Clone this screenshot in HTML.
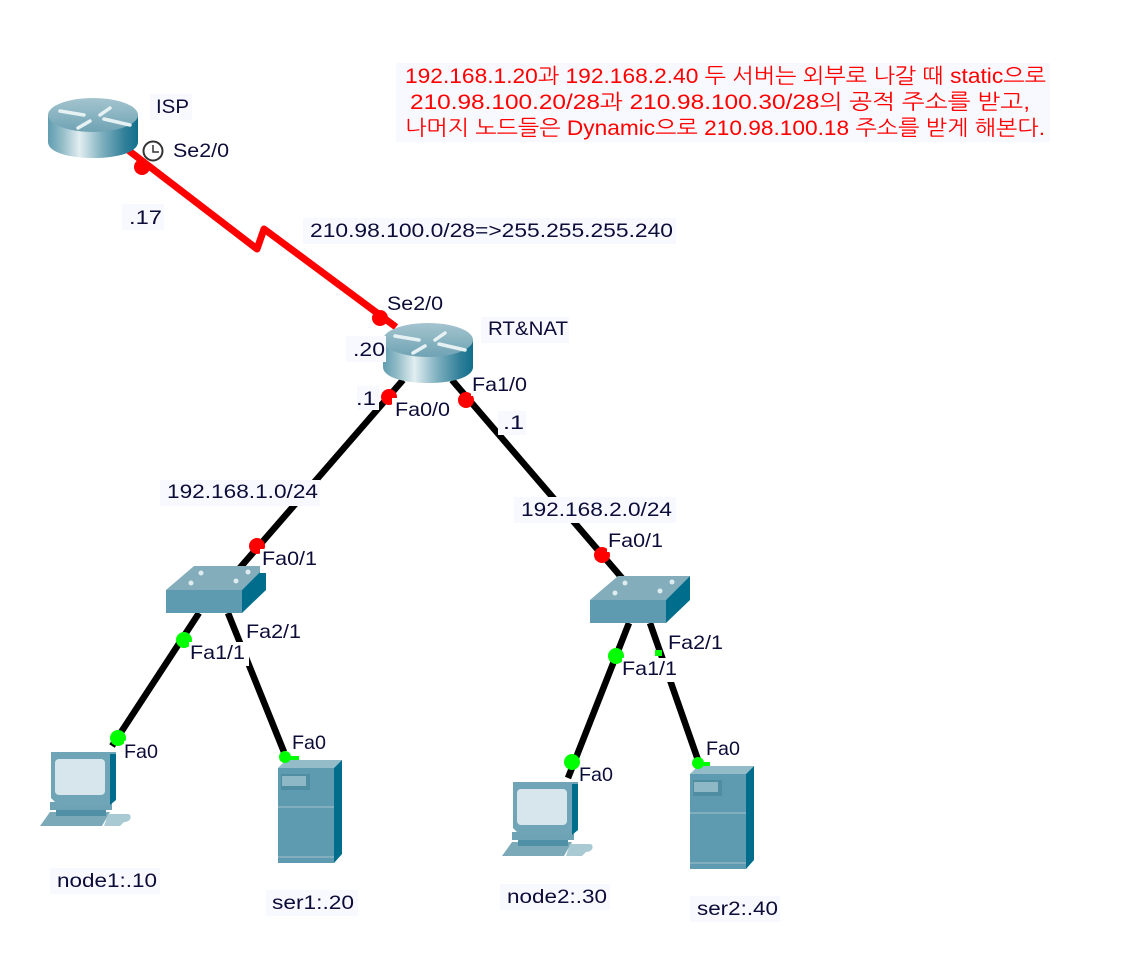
<!DOCTYPE html>
<html><head><meta charset="utf-8"><style>
html,body{margin:0;padding:0;background:#fff}
svg{display:block}
text{font-family:"Liberation Sans","NanumGothic","Noto Sans CJK KR",sans-serif;font-size:19.5px;fill:#0c0c38}
.r{fill:#ff0000;font-size:21px;font-family:"Liberation Sans","NanumGothic","Noto Sans CJK KR",sans-serif}
.b{fill:#f8f9ff}
</style></head><body>
<svg width="1125" height="963" viewBox="0 0 1125 963" xmlns="http://www.w3.org/2000/svg">
<defs>
<linearGradient id="rg" x1="0" x2="1" y1="0" y2="0">
<stop offset="0" stop-color="#5f9db0"/><stop offset=".15" stop-color="#8fbac6"/><stop offset=".35" stop-color="#e2eef1"/><stop offset=".6" stop-color="#7fb0bf"/><stop offset=".85" stop-color="#33809a"/><stop offset="1" stop-color="#0f6f8c"/>
</linearGradient>
<linearGradient id="rt" x1="0" x2="0" y1="0" y2="1"><stop offset="0" stop-color="#a4c4cf"/><stop offset="1" stop-color="#6fa3b4"/></linearGradient>
<g id="router">
<path d="M0 17 V44 C0 54 20 60 45 60 C70 60 90 54 90 44 V17 Z" fill="url(#rg)"/>
<ellipse cx="45" cy="17" rx="45" ry="17" fill="url(#rt)"/>
<g stroke="#e6f1f4" stroke-width="3.5" fill="none" stroke-linecap="round">
<path d="M12 13 L36 17"/><path d="M52 17 L62 10"/><path d="M56 21 L82 27"/><path d="M30 30 L42 23"/>
</g>
</g>
<g id="sw">
<path d="M0 24 L28 0 H100 L76 24 Z" fill="#83adbb"/>
<path d="M76 24 L100 0 V24 L76 47 Z" fill="#016d8c"/>
<rect x="0" y="24" width="76" height="23" fill="#5f9bb0"/>
<g fill="#dfecef"><circle cx="35" cy="7" r="2.5"/><circle cx="82" cy="6" r="2.5"/><circle cx="25" cy="17" r="2.5"/><circle cx="70" cy="15" r="2.5"/></g>
</g>
<g id="pc">
<path d="M0 74 L10 60 H70 L62 74 Z" fill="#7ca9b8"/>
<path d="M64 74 L68 62 H88 C92 62 92 70 84 70 L80 74 H72 Z" fill="#a9c9d3"/>
<rect x="10" y="50" width="62" height="8" fill="#6ea3b5"/>
<rect x="16" y="58" width="50" height="6" fill="#4f90a6"/>
<path d="M11 0 H76 V46 L70 53 H18 L11 46 Z" fill="#6fa5b7"/>
<path d="M70 2 H76 V48 L70 53 Z" fill="#016d8c"/>
<rect x="15" y="7" width="50" height="36" rx="4" fill="#d7e5ec"/>
</g>
<g id="srv">
<path d="M0 8 L8 0 H64 L56 8 Z" fill="#93bbc8"/>
<path d="M56 8 L64 0 V94 L56 103 Z" fill="#016d8c"/>
<rect x="0" y="8" width="56" height="95" fill="#5f9bb0"/>
<rect x="3" y="14" width="29" height="16" fill="#4f8da3"/>
<rect x="4" y="16" width="24" height="10" fill="#8fb8c6"/>
<rect x="0" y="46" width="56" height="2" fill="#82adbc"/>
<rect x="0" y="96" width="56" height="2" fill="#82adbc"/>
</g>
</defs>

<!-- links -->
<g fill="none" stroke-linejoin="round">
<path d="M128 150 L257 249 L264 229 L396 327" stroke="#ff0000" stroke-width="7"/>
<g stroke="#000" stroke-width="6.5">
<path d="M403 380 L238 570"/>
<path d="M452 380 L622 578"/>
<path d="M199 613 L112 746"/>
<path d="M228 613 L284 752"/>
<path d="M629 623 L568 778"/>
<path d="M650 623 L698 760"/>
</g>
</g>

<!-- devices -->
<use href="#router" x="48" y="98"/>
<use href="#router" x="383" y="323"/>
<use href="#sw" x="166" y="566"/>
<use href="#sw" x="590" y="576"/>
<use href="#pc" x="40" y="752"/>
<use href="#pc" x="502" y="782"/>
<use href="#srv" x="278" y="760"/>
<use href="#srv" x="690" y="766"/>

<!-- port dots -->
<g fill="#ff0000">
<circle cx="142" cy="167" r="8"/><circle cx="380" cy="318" r="8"/><circle cx="389" cy="397" r="8"/><circle cx="466" cy="400" r="8"/><circle cx="257" cy="546" r="8"/><circle cx="602" cy="555" r="8"/>
</g>
<g fill="#00ff00">
<circle cx="184" cy="640" r="8"/><circle cx="118" cy="738" r="8"/><circle cx="285" cy="757" r="6"/><rect x="285" y="756" width="14" height="4"/><circle cx="616" cy="656" r="8"/><rect x="655" y="650" width="7" height="6"/><circle cx="572" cy="762" r="8"/><circle cx="698" cy="763" r="6"/><rect x="698" y="762" width="12" height="4"/>
</g>

<!-- clock -->
<circle cx="153" cy="151" r="9.5" fill="#fff" stroke="#333" stroke-width="2"/>
<path d="M153 145 V152 H159" fill="none" stroke="#333" stroke-width="1.5"/>

<!-- label backgrounds -->
<rect class="b" x="396" y="63" width="654" height="79"/>
<rect class="b" x="150" y="94" width="42" height="26"/>
<rect class="b" x="122" y="204" width="42" height="26"/>
<rect class="b" x="303" y="218" width="373" height="26"/>
<rect class="b" x="481" y="317" width="88" height="26"/>
<rect class="b" x="346" y="336" width="40" height="26"/>
<rect class="b" x="357" y="386" width="22" height="24"/>
<rect class="b" x="498" y="411" width="28" height="24"/>
<rect class="b" x="160" y="480" width="160" height="26"/>
<rect class="b" x="514" y="497" width="162" height="26"/>
<rect class="b" x="50" y="868" width="110" height="26"/>
<rect class="b" x="266" y="890" width="92" height="26"/>
<rect class="b" x="500" y="884" width="110" height="26"/>
<rect class="b" x="690" y="896" width="90" height="26"/>
<g fill="#fff">
<rect x="172" y="140" width="60" height="22"/>
<rect x="392" y="398" width="60" height="24"/>
<rect x="471" y="372" width="58" height="24"/>
<rect x="260" y="549" width="60" height="24"/>
<rect x="607" y="528" width="60" height="24"/>
<rect x="189" y="642" width="60" height="24"/>
<rect x="246" y="620" width="58" height="24"/>
<rect x="622" y="658" width="58" height="24"/>
<rect x="668" y="632" width="58" height="22"/>
<rect x="124" y="741" width="38" height="22"/>
<rect x="291" y="732" width="38" height="22"/>
<rect x="580" y="764" width="38" height="22"/>
<rect x="705" y="738" width="38" height="22"/>
</g>

<!-- labels -->
<g lengthAdjust="spacingAndGlyphs">
<text x="156" y="113" textLength="33" lengthAdjust="spacingAndGlyphs">ISP</text>
<text x="173" y="157" textLength="56" lengthAdjust="spacingAndGlyphs">Se2/0</text>
<text x="129" y="224" textLength="33" lengthAdjust="spacingAndGlyphs">.17</text>
<text x="310" y="237" textLength="363" lengthAdjust="spacingAndGlyphs">210.98.100.0/28=&gt;255.255.255.240</text>
<text x="387" y="310" textLength="56" lengthAdjust="spacingAndGlyphs">Se2/0</text>
<text x="488" y="335" textLength="80" lengthAdjust="spacingAndGlyphs">RT&amp;NAT</text>
<text x="353" y="356" textLength="32" lengthAdjust="spacingAndGlyphs">.20</text>
<text x="356" y="405" textLength="20" lengthAdjust="spacingAndGlyphs">.1</text>
<text x="395" y="416" textLength="55" lengthAdjust="spacingAndGlyphs">Fa0/0</text>
<text x="472" y="391" textLength="55" lengthAdjust="spacingAndGlyphs">Fa1/0</text>
<text x="503" y="429" textLength="21" lengthAdjust="spacingAndGlyphs">.1</text>
<text x="167" y="498" textLength="151" lengthAdjust="spacingAndGlyphs">192.168.1.0/24</text>
<text x="521" y="516" textLength="151" lengthAdjust="spacingAndGlyphs">192.168.2.0/24</text>
<text x="262" y="565" textLength="55" lengthAdjust="spacingAndGlyphs">Fa0/1</text>
<text x="608" y="547" textLength="55" lengthAdjust="spacingAndGlyphs">Fa0/1</text>
<text x="190" y="659" textLength="55" lengthAdjust="spacingAndGlyphs">Fa1/1</text>
<text x="246" y="638" textLength="55" lengthAdjust="spacingAndGlyphs">Fa2/1</text>
<text x="622" y="675" textLength="55" lengthAdjust="spacingAndGlyphs">Fa1/1</text>
<text x="668" y="649" textLength="55" lengthAdjust="spacingAndGlyphs">Fa2/1</text>
<text x="124" y="758" textLength="34" lengthAdjust="spacingAndGlyphs">Fa0</text>
<text x="292" y="749" textLength="34" lengthAdjust="spacingAndGlyphs">Fa0</text>
<text x="579" y="781" textLength="34" lengthAdjust="spacingAndGlyphs">Fa0</text>
<text x="706" y="755" textLength="34" lengthAdjust="spacingAndGlyphs">Fa0</text>
<text x="57" y="887" textLength="100" lengthAdjust="spacingAndGlyphs">node1:.10</text>
<text x="272" y="909" textLength="82" lengthAdjust="spacingAndGlyphs">ser1:.20</text>
<text x="507" y="903" textLength="100" lengthAdjust="spacingAndGlyphs">node2:.30</text>
<text x="697" y="915" textLength="81" lengthAdjust="spacingAndGlyphs">ser2:.40</text>
</g>

<text class="r" x="405" y="83" textLength="641" lengthAdjust="spacingAndGlyphs">192.168.1.20과 192.168.2.40 두 서버는 외부로 나갈 때 static으로</text>
<text class="r" x="410" y="109" textLength="620" lengthAdjust="spacingAndGlyphs">210.98.100.20/28과 210.98.100.30/28의 공적 주소를 받고,</text>
<text class="r" x="405" y="135" textLength="640" lengthAdjust="spacingAndGlyphs">나머지 노드들은 Dynamic으로 210.98.100.18 주소를 받게 해본다.</text>
</svg>
</body></html>
